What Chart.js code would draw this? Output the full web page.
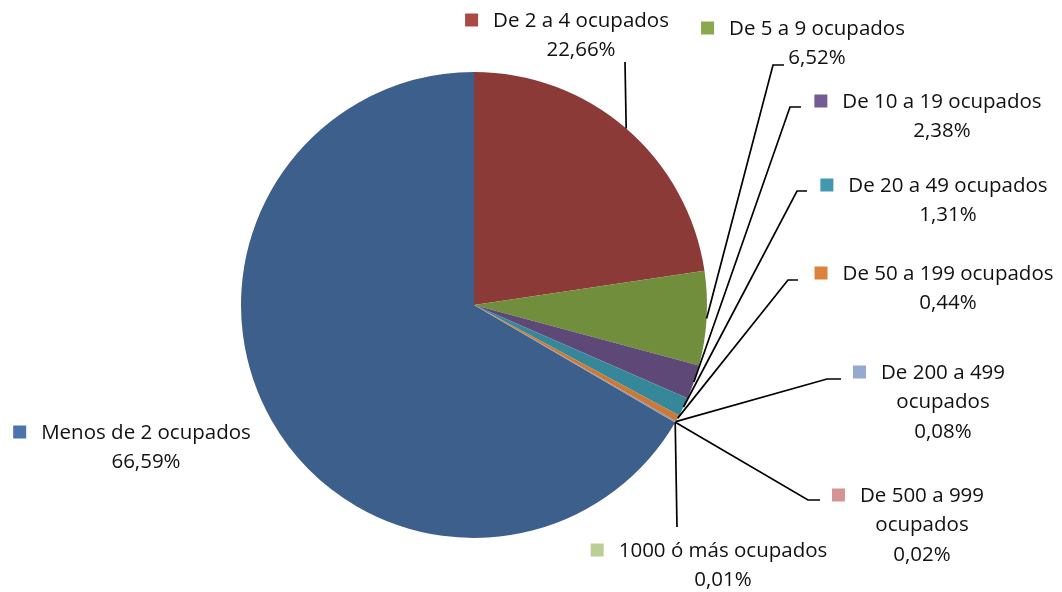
<!DOCTYPE html>
<html>
<head>
<meta charset="utf-8">
<script src="https://cdn.jsdelivr.net/npm/chart.js@4.4.1/dist/chart.umd.min.js"></script>
<style>
  html, body { margin: 0; padding: 0; background: #fff; }
  #wrap { position: relative; width: 1062px; height: 592px; }
</style>
</head>
<body>
<div id="wrap"><canvas id="pieChart"></canvas></div>
<script>
const categories = ['Menos de 2 ocupados', 'De 2 a 4 ocupados', 'De 5 a 9 ocupados', 'De 10 a 19 ocupados',
  'De 20 a 49 ocupados', 'De 50 a 199 ocupados', 'De 200 a 499 ocupados', 'De 500 a 999 ocupados',
  '1000 ó más ocupados'];
const shares = [66.59, 22.66, 6.52, 2.38, 1.31, 0.44, 0.08, 0.02, 0.01];

const sliceColors = ['#3c5f8c', '#8c3a37', '#718e3d', '#5e4878', '#37879a', '#cc7935', '#7d8fb6', '#b17b7a', '#9bb07a'];
const keyColors = ['#4a74aa', '#a94a47', '#8aa94c', '#735c93', '#4298b0', '#da833e', '#95a9d1', '#d39494', '#b9cf96'];

// label placement: text centre x, first line y, wrap name, leader elbow + end
const labelSpots = [
  { x: 146, y: 432, wrap: false, line: null },
  { x: 581, y: 20, wrap: false, line: [[625, 62]] },
  { x: 817, y: 28, wrap: false, line: [[773, 65], [784, 65]] },
  { x: 942, y: 101, wrap: false, line: [[790, 107], [801, 107]] },
  { x: 948, y: 185, wrap: false, line: [[797, 191], [807, 191]] },
  { x: 948, y: 273, wrap: false, line: [[788, 280], [798, 280]] },
  { x: 943, y: 372, wrap: true, line: [[827, 379], [841, 379]] },
  { x: 922, y: 495, wrap: true, line: [[808, 500], [820, 500]] },
  { x: 723, y: 550, wrap: false, line: [[677, 527]] }
];

const total = shares.reduce((a, b) => a + b, 0);
const fmt = v => v.toFixed(2).replace('.', ',') + '%';

const outLabels = {
  id: 'outLabels',
  afterDraw(chart) {
    const ctx = chart.ctx;
    const arcs = chart.getDatasetMeta(0).data;
    ctx.save();

    // leader lines
    ctx.strokeStyle = '#000';
    ctx.lineWidth = 1.7;
    arcs.forEach((arc, i) => {
      const spot = labelSpots[i];
      if (!spot.line) return;
      const p = arc.getProps(['x', 'y', 'startAngle', 'endAngle', 'outerRadius'], true);
      const mid = (p.startAngle + p.endAngle) / 2;
      ctx.beginPath();
      ctx.moveTo(p.x + Math.cos(mid) * p.outerRadius, p.y + Math.sin(mid) * p.outerRadius);
      spot.line.forEach(pt => ctx.lineTo(pt[0], pt[1]));
      ctx.stroke();
    });

    // text + legend keys
    ctx.font = '20.5px "Open Sans"';
    ctx.textAlign = 'center';
    ctx.textBaseline = 'middle';
    categories.forEach((name, i) => {
      const spot = labelSpots[i];
      let lines = [name];
      if (spot.wrap) {
        const cut = name.lastIndexOf(' ');
        lines = [name.slice(0, cut), name.slice(cut + 1)];
      }
      lines.push(fmt(shares[i]));
      ctx.fillStyle = '#111';
      lines.forEach((t, k) => ctx.fillText(t, spot.x, spot.y + 1 + k * 29.5));
      const w = ctx.measureText(lines[0]).width;
      ctx.fillStyle = keyColors[i];
      ctx.fillRect(spot.x - w / 2 - 28, spot.y - 6.5, 13, 13);
    });
    ctx.restore();
  }
};

new Chart(document.getElementById('pieChart').getContext('2d'), {
  type: 'pie',
  data: {
    labels: categories,
    datasets: [{
      data: shares,
      backgroundColor: sliceColors,
      borderWidth: 0
    }]
  },
  options: {
    responsive: true,
    maintainAspectRatio: false,
    animation: false,
    rotation: 360 - shares[0] / total * 360,
    layout: { padding: { top: 72, bottom: 54, left: 100, right: 214 } },
    plugins: {
      legend: { display: false },
      tooltip: { enabled: false }
    }
  },
  plugins: [outLabels]
});
</script>
</body>
</html>
